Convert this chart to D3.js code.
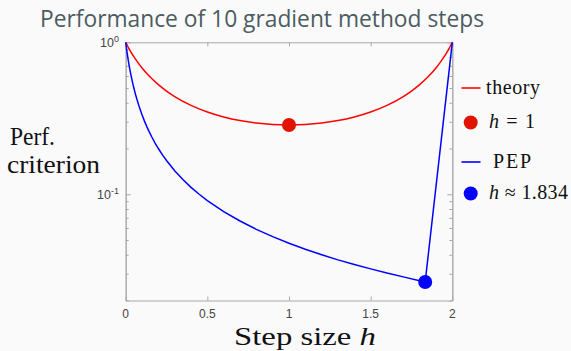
<!DOCTYPE html>
<html>
<head>
<meta charset="utf-8">
<script src="https://cdn.jsdelivr.net/npm/d3@7"></script>
<style>
  html, body { margin: 0; padding: 0; background: #fafafa; }
  svg { display: block; }
</style>
</head>
<body>
<svg id="chart" width="571" height="351"></svg>
<script>
// ---- data ----
const theoryH = [0, 0.01, 0.02, 0.035, 0.05, 0.075, 0.1, 0.15, 0.2, 0.25, 0.3, 0.4, 0.5, 0.6, 0.7, 0.8, 0.9, 1.0,
                 1.1, 1.2, 1.3, 1.4, 1.5, 1.6, 1.7, 1.75, 1.8, 1.85, 1.9, 1.925, 1.95, 1.965, 1.98, 1.99, 2.0];
const theoryV = [1, 0.9526, 0.9099, 0.8532, 0.8040, 0.7348, 0.6780, 0.5904, 0.5263, 0.4776, 0.4396, 0.3846, 0.3478, 0.3226, 0.3053, 0.2941, 0.2878, 0.2857,
                 0.2878, 0.2941, 0.3053, 0.3226, 0.3478, 0.3846, 0.4396, 0.4776, 0.5263, 0.5904, 0.6780, 0.7348, 0.8040, 0.8532, 0.9099, 0.9526, 1];
const pepH = [0, 0.0025, 0.005, 0.0075, 0.01, 0.015, 0.02, 0.025, 0.03, 0.04, 0.05, 0.06, 0.07, 0.085, 0.1, 0.115, 0.13, 0.145, 0.16, 0.18, 0.2, 0.225, 0.25, 0.3, 0.35, 0.4, 0.45, 0.5, 0.6, 0.7, 0.8, 0.9, 1.0,
              1.1, 1.2, 1.3, 1.4, 1.5, 1.6, 1.7, 1.8, 1.834, 2.0];
const pepV = [1, 0.9524, 0.9091, 0.8696, 0.8333, 0.7692, 0.7143, 0.6667, 0.625, 0.5556, 0.5, 0.4545, 0.4167, 0.3704, 0.3333, 0.3030, 0.2778, 0.2564, 0.2381, 0.2174, 0.2, 0.1818, 0.1667, 0.1429, 0.125, 0.1111, 0.1, 0.0909, 0.0769, 0.0667, 0.0588, 0.0526, 0.0476,
              0.0435, 0.04, 0.0370, 0.0345, 0.0323, 0.0303, 0.0286, 0.0270, 0.0265, 1];
const markers = [{h: 1, v: 0.2857, color: "#e01400"}, {h: 1.834, v: 0.0265, color: "#0000ff"}];
const xTicks = [0, 0.5, 1, 1.5, 2];
const xTickLabels = ["0", "0.5", "1", "1.5", "2"];
const yMajor = [{v: 1, exp: "0"}, {v: 0.1, exp: "-1"}];
const yMinor = [0.02, 0.03, 0.04, 0.05, 0.06, 0.07, 0.08, 0.09, 0.2, 0.3, 0.4, 0.5, 0.6, 0.7, 0.8, 0.9];
const legendItems = [
  {type: "line", color: "#ff0000", label: ["theory"]},
  {type: "dot", color: "#e01400", label: ["h", " = 1"]},
  {type: "line", color: "#0000ff", label: ["PEP"]},
  {type: "dot", color: "#0000ff", label: ["h", " \u2248 1.834"]}
];

// ---- layout ----
const svg = d3.select("#chart");
const L = 125.7, R = 452.3, T = 42.3, B = 300.5;
const x = d3.scaleLinear().domain([0, 2]).range([L, R]);
const y = d3.scaleLog().domain([0.02, 1]).range([B, T]);
const axisColor = "#a8a8a8";
const serif = "'Liberation Serif', 'DejaVu Serif', serif";
const sans = "'Liberation Sans', Arial, sans-serif";

svg.append("rect").attr("width", 571).attr("height", 351).attr("fill", "#fafafa");

// title
svg.append("text")
  .attr("x", 262).attr("y", 27)
  .attr("text-anchor", "middle")
  .attr("font-family", "'Open Sans', 'Noto Sans', sans-serif")
  .attr("font-size", 23.5)
  .attr("fill", "#4c5c61")
  .attr("textLength", 444).attr("lengthAdjust", "spacingAndGlyphs")
  .text("Performance of 10 gradient method steps");

// axes box with inward ticks
function styleAxis(g) {
  g.selectAll("path, line").attr("stroke", axisColor).attr("stroke-width", 1);
  g.selectAll("text").remove();
}
svg.append("g").attr("transform", `translate(0,${B})`)
  .call(d3.axisBottom(x).tickValues(xTicks).tickSizeInner(-4).tickSizeOuter(0)).call(styleAxis);
svg.append("g").attr("transform", `translate(0,${T})`)
  .call(d3.axisTop(x).tickValues(xTicks).tickSizeInner(-4).tickSizeOuter(0)).call(styleAxis);
svg.append("g").attr("transform", `translate(${L},0)`)
  .call(d3.axisLeft(y).tickValues(yMinor).tickSizeInner(-3).tickSizeOuter(0)).call(styleAxis);
svg.append("g").attr("transform", `translate(${L},0)`)
  .call(d3.axisLeft(y).tickValues(yMajor.map(d => d.v)).tickSizeInner(-5).tickSizeOuter(0)).call(styleAxis);
svg.append("g").attr("transform", `translate(${R},0)`)
  .call(d3.axisRight(y).tickValues(yMinor).tickSizeInner(-3).tickSizeOuter(0)).call(styleAxis);
svg.append("g").attr("transform", `translate(${R},0)`)
  .call(d3.axisRight(y).tickValues(yMajor.map(d => d.v)).tickSizeInner(-5).tickSizeOuter(0)).call(styleAxis);

// tick labels
svg.append("g").selectAll("text").data(xTicks).join("text")
  .attr("x", d => x(d)).attr("y", 318)
  .attr("text-anchor", "middle")
  .attr("font-family", sans).attr("font-size", 12).attr("fill", "#444")
  .text((d, i) => xTickLabels[i]);
const yl = svg.append("g").selectAll("text").data(yMajor).join("text")
  .attr("x", 119).attr("y", d => y(d.v) + 4.5)
  .attr("text-anchor", "end")
  .attr("font-family", sans).attr("font-size", 12.5).attr("fill", "#444");
yl.append("tspan").text("10");
yl.append("tspan").attr("dy", -5).attr("font-size", 9).text(d => d.exp);

// axis titles
svg.append("text").attr("x", 10).attr("y", 145)
  .attr("font-family", serif).attr("font-size", 26).attr("fill", "#111")
  .attr("textLength", 45).attr("lengthAdjust", "spacingAndGlyphs").text("Perf.");
svg.append("text").attr("x", 7).attr("y", 172.5)
  .attr("font-family", serif).attr("font-size", 26).attr("fill", "#111")
  .attr("textLength", 93).attr("lengthAdjust", "spacingAndGlyphs").text("criterion");
const xl = svg.append("text").attr("x", 234).attr("y", 345)
  .attr("font-family", serif).attr("font-size", 25.5).attr("fill", "#111")
  .attr("textLength", 142).attr("lengthAdjust", "spacingAndGlyphs");
xl.append("tspan").text("Step size ");
xl.append("tspan").attr("font-style", "italic").text("h");

// curves
const line = d3.line().x(d => x(d[0])).y(d => y(d[1])).curve(d3.curveMonotoneX);
svg.append("path").datum(theoryH.map((h, i) => [h, theoryV[i]]))
  .attr("d", line).attr("fill", "none").attr("stroke", "#ff0000").attr("stroke-width", 1.5);
const lineLin = d3.line().x(d => x(d[0])).y(d => y(d[1]));
svg.append("path").datum(pepH.map((h, i) => [h, pepV[i]]))
  .attr("d", lineLin).attr("fill", "none").attr("stroke", "#0000ff").attr("stroke-width", 1.5);

// markers
svg.append("g").selectAll("circle").data(markers).join("circle")
  .attr("cx", d => x(d.h)).attr("cy", d => y(d.v)).attr("r", 7)
  .attr("fill", d => d.color);

// legend
const legY = [88, 122.5, 162, 193.5];
const legX = [486, 489, 493, 489];
const legW = [54, 46, 38, 79];
const lg = svg.append("g");
legendItems.forEach((it, i) => {
  const yy = legY[i];
  if (it.type === "line") {
    lg.append("line").attr("x1", 461.5).attr("x2", 480.5).attr("y1", yy).attr("y2", yy)
      .attr("stroke", it.color).attr("stroke-width", 1.6);
  } else {
    lg.append("circle").attr("cx", 470.7).attr("cy", yy).attr("r", 7).attr("fill", it.color);
  }
  const t = lg.append("text")
    .attr("x", legX[i])
    .attr("y", yy + 5.5)
    .attr("font-family", serif).attr("font-size", 20).attr("fill", "#111")
    .attr("textLength", legW[i]).attr("lengthAdjust", "spacing");
  if (it.label.length === 1) {
    t.text(it.label[0]);
  } else {
    t.append("tspan").attr("font-style", "italic").text(it.label[0]);
    t.append("tspan").text(it.label[1]);
  }
});
</script>
</body>
</html>
